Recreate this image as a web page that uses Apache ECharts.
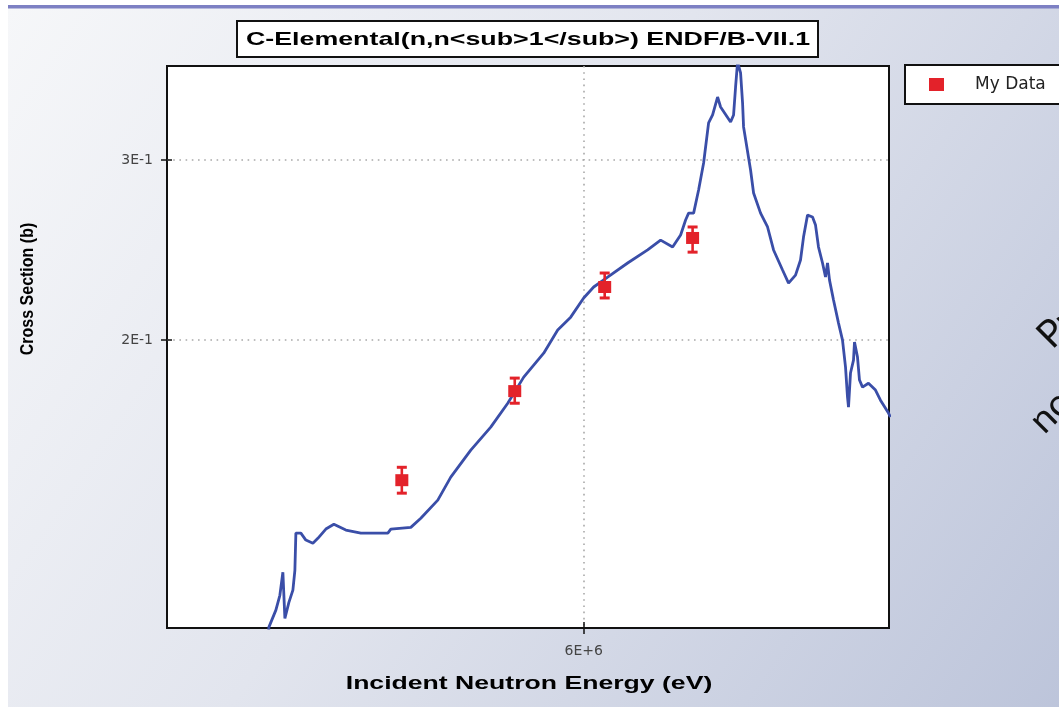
<!DOCTYPE html>
<html>
<head>
<meta charset="utf-8">
<title>C-Elemental(n,n1) ENDF/B-VII.1</title>
<script src="https://cdn.jsdelivr.net/npm/echarts@6/dist/echarts.min.js"></script>
<style>
  html, body { margin: 0; padding: 0; background: #ffffff; }
  #chart { width: 1059px; height: 707px; }
</style>
</head>
<body>
<div id="chart"></div>
<script>
// Evaluated curve: incident energy (eV) and cross section (b)
const evalEnergy = [
  4.8131e6, 4.8199e6, 4.8433e6, 4.8568e6, 4.8670e6, 4.8738e6, 4.8874e6, 4.9010e6, 4.9078e6, 4.9112e6,
  4.9283e6, 4.9454e6, 4.9696e6, 4.9869e6, 5.0147e6, 5.0428e6, 5.0850e6, 5.1383e6, 5.2357e6, 5.2466e6,
  5.3201e6, 5.3572e6, 5.4209e6, 5.4700e6, 5.5467e6, 5.6243e6, 5.6912e6, 5.7548e6, 5.8354e6, 5.8925e6,
  5.9460e6, 6.0000e6, 6.0419e6, 6.1009e6, 6.1864e6, 6.2730e6, 6.3299e6, 6.3830e6, 6.4186e6, 6.4409e6,
  6.4544e6, 6.4769e6, 6.4994e6, 6.5221e6, 6.5448e6, 6.5630e6, 6.5858e6, 6.5996e6, 6.6457e6, 6.6595e6,
  6.6688e6, 6.6781e6, 6.6920e6, 6.7013e6, 6.7060e6, 6.7387e6, 6.7528e6, 6.7857e6, 6.8188e6, 6.8473e6,
  6.8903e6, 6.9191e6, 6.9528e6, 6.9770e6, 6.9916e6, 7.0111e6, 7.0355e6, 7.0502e6, 7.0649e6, 7.0846e6,
  7.0994e6, 7.1093e6, 7.1192e6, 7.1390e6, 7.1639e6, 7.1838e6, 7.1989e6, 7.2089e6, 7.2139e6, 7.2239e6,
  7.2390e6, 7.2440e6, 7.2591e6, 7.2692e6, 7.2844e6, 7.3148e6, 7.3505e6, 7.3761e6, 7.4173e6, 7.4276e6
];
const evalXs = [
  0.0973, 0.1048, 0.1089, 0.1126, 0.1186, 0.1069, 0.1108, 0.1139, 0.1191, 0.1295,
  0.1295, 0.1275, 0.1266, 0.1280, 0.1307, 0.1321, 0.1304, 0.1295, 0.1295, 0.1307,
  0.1312, 0.1339, 0.1395, 0.1469, 0.1561, 0.1644, 0.1735, 0.1840, 0.1942, 0.2046,
  0.2106, 0.2199, 0.2254, 0.2305, 0.2379, 0.2450, 0.2505, 0.2466, 0.2534, 0.2621,
  0.2662, 0.2662, 0.2804, 0.2980, 0.3261, 0.3320, 0.3457, 0.3380, 0.3268, 0.3320,
  0.3536, 0.3741, 0.3650, 0.3411, 0.3232, 0.2933, 0.2785, 0.2662, 0.2580, 0.2450,
  0.2342, 0.2274, 0.2315, 0.2395, 0.2522, 0.2650, 0.2639, 0.2591, 0.2466, 0.2379,
  0.2305, 0.2379, 0.2289, 0.2189, 0.2078, 0.2000, 0.1882, 0.1759, 0.1720, 0.1857,
  0.1912, 0.1991, 0.1925, 0.1828, 0.1799, 0.1815, 0.1787, 0.1747, 0.1697, 0.1682
];

// Measured points with their uncertainty range
const dataEnergy = [5.2869e6, 5.7190e6, 6.0883e6, 6.4723e6];
const dataXs     = [0.1459, 0.1783, 0.2254, 0.2517];
const dataXsLow  = [0.1417, 0.1735, 0.2199, 0.2438];
const dataXsHigh = [0.1502, 0.1836, 0.2326, 0.2580];

// Axis ranges and labelled ticks
const xRange = [4.49e6, 7.42e6];
const yRange = [0.1046, 0.3707];
const xTicks = [6e6];
const xTickLabels = ['6E+6'];
const yTicks = [0.2, 0.3];
const yTickLabels = ['2E-1', '3E-1'];

const titleText = 'C-Elemental(n,n<sub>1</sub>) ENDF/B-VII.1';
const xName = 'Incident Neutron Energy (eV)';
const yName = 'Cross Section (b)';
const seriesName = 'My Data';

const RED = '#e3222a';
const BLUE = '#3a4ea8';

function tickText(ticks, labels) {
  return function (v) {
    for (let i = 0; i < ticks.length; i++) {
      if (Math.abs(v - ticks[i]) <= Math.abs(ticks[i]) * 1e-6) return labels[i];
    }
    return '';
  };
}

const gridLine = { show: true, lineStyle: { color: '#a9a9a9', width: 1.6, type: [1.6, 4.6] } };
const tickFont = { color: '#444', fontFamily: 'DejaVu Sans', fontSize: 14 };

const chart = echarts.init(document.getElementById('chart'), null, { renderer: 'canvas' });

chart.setOption({
  animation: false,
  graphic: [
    // slide backdrop
    {
      type: 'rect', z: -20, silent: true,
      shape: { x: 8, y: 6, width: 1060, height: 710 },
      style: {
        fill: {
          type: 'linear', x: 0, y: 0, x2: 1, y2: 1,
          colorStops: [
            { offset: 0, color: '#f6f7f9' },
            { offset: 0.45, color: '#e2e5ee' },
            { offset: 1, color: '#bcc4da' }
          ]
        }
      }
    },
    {
      type: 'rect', z: -19, silent: true,
      shape: { x: 8, y: 5, width: 1060, height: 3.5 },
      style: { fill: '#7d80c3' }
    },
    // chart title in a box
    {
      type: 'rect', z: 5,
      shape: { x: 237, y: 21, width: 581, height: 36 },
      style: { fill: '#ffffff', stroke: '#111', lineWidth: 2 }
    },
    {
      type: 'text', z: 6, x: 528, y: 40, scaleX: 1.41,
      style: {
        text: titleText, x: 0, y: 0,
        fontFamily: 'Liberation Sans, Arial, sans-serif', fontWeight: 'bold', fontSize: 19,
        fill: '#000', align: 'center', verticalAlign: 'middle'
      }
    },
    // axis titles
    {
      type: 'text', z: 6, x: 529, y: 684, scaleX: 1.4,
      style: {
        text: xName, x: 0, y: 0,
        fontFamily: 'Liberation Sans, Arial, sans-serif', fontWeight: 'bold', fontSize: 19,
        fill: '#000', align: 'center', verticalAlign: 'middle'
      }
    },
    {
      type: 'text', z: 6, x: 28, y: 289, rotation: Math.PI / 2, scaleY: 1.15,
      style: {
        text: yName, x: 0, y: 0,
        fontFamily: 'Liberation Sans, Arial, sans-serif', fontWeight: 'bold', fontSize: 16,
        fill: '#000', align: 'center', verticalAlign: 'middle'
      }
    },
    // slide text running off the right edge
    {
      type: 'text', z: 6, x: 1057, y: 355, rotation: Math.PI / 4,
      style: { text: 'Pr', x: 0, y: 0, fontFamily: 'Lato, Open Sans, sans-serif', fontSize: 38, fill: '#111', align: 'left', verticalAlign: 'bottom' }
    },
    {
      type: 'text', z: 6, x: 1049, y: 440, rotation: Math.PI / 4,
      style: { text: 'no', x: 0, y: 0, fontFamily: 'Lato, Open Sans, sans-serif', fontSize: 38, fill: '#111', align: 'left', verticalAlign: 'bottom' }
    }
  ],
  legend: {
    data: [seriesName],
    left: 905, top: 65,
    orient: 'vertical',
    backgroundColor: '#ffffff',
    borderColor: '#111', borderWidth: 2, borderRadius: 0,
    padding: [11, 60, 11, 24],
    itemWidth: 15, itemHeight: 13,
    icon: 'rect',
    textStyle: { color: '#222', fontFamily: 'DejaVu Sans', fontSize: 17, padding: [0, 0, 0, 26] }
  },
  grid: {
    left: 167, top: 66, width: 722, height: 562,
    show: true, backgroundColor: '#ffffff', borderColor: '#111', borderWidth: 2
  },
  xAxis: [
    {
      type: 'log', min: xRange[0], max: xRange[1],
      axisLine: { show: false },
      axisTick: { show: true, customValues: xTicks, length: 6, lineStyle: { color: '#111', width: 1.5 } },
      minorTick: { show: false },
      axisLabel: Object.assign({ customValues: xTicks, formatter: tickText(xTicks, xTickLabels), margin: 16 }, tickFont),
      splitLine: gridLine
    },
    {
      type: 'log', min: xRange[0], max: xRange[1], position: 'bottom',
      axisLine: { show: false },
      axisTick: { show: true, inside: true, customValues: xTicks, length: 6, lineStyle: { color: '#111', width: 1.5 } },
      axisLabel: { show: false },
      splitLine: { show: false }
    }
  ],
  yAxis: [
    {
      type: 'log', min: yRange[0], max: yRange[1],
      axisLine: { show: false },
      axisTick: { show: true, customValues: yTicks, length: 6, lineStyle: { color: '#111', width: 1.5 } },
      minorTick: { show: false },
      axisLabel: Object.assign({ customValues: yTicks, formatter: tickText(yTicks, yTickLabels), margin: 14 }, tickFont),
      splitLine: gridLine
    },
    {
      type: 'log', min: yRange[0], max: yRange[1], position: 'left',
      axisLine: { show: false },
      axisTick: { show: true, inside: true, customValues: yTicks, length: 5, lineStyle: { color: '#111', width: 1.5 } },
      axisLabel: { show: false },
      splitLine: { show: false }
    }
  ],
  series: [
    {
      name: 'ENDF/B-VII.1',
      type: 'line',
      data: evalEnergy.map((e, i) => [e, evalXs[i]]),
      showSymbol: false, symbol: 'none',
      clip: true,
      lineStyle: { color: BLUE, width: 2.8 },
      z: 3
    },
    {
      name: seriesName + ' uncertainty',
      type: 'custom',
      data: dataEnergy.map((e, i) => [e, dataXsLow[i], dataXsHigh[i]]),
      encode: { x: 0, y: [1, 2] },
      renderItem: function (params, api) {
        const lo = api.coord([api.value(0), api.value(1)]);
        const hi = api.coord([api.value(0), api.value(2)]);
        const w = 5;
        const st = { stroke: RED, lineWidth: 3 };
        return {
          type: 'group',
          children: [
            { type: 'line', shape: { x1: lo[0], y1: lo[1], x2: hi[0], y2: hi[1] }, style: { stroke: RED, lineWidth: 2.6 } },
            { type: 'line', shape: { x1: lo[0] - w, y1: lo[1], x2: lo[0] + w, y2: lo[1] }, style: st },
            { type: 'line', shape: { x1: hi[0] - w, y1: hi[1], x2: hi[0] + w, y2: hi[1] }, style: st }
          ]
        };
      },
      z: 4
    },
    {
      name: seriesName,
      type: 'scatter',
      data: dataEnergy.map((e, i) => [e, dataXs[i]]),
      symbol: 'rect',
      symbolSize: [13, 12],
      itemStyle: { color: RED, opacity: 1 },
      z: 5
    }
  ]
});
</script>
</body>
</html>
